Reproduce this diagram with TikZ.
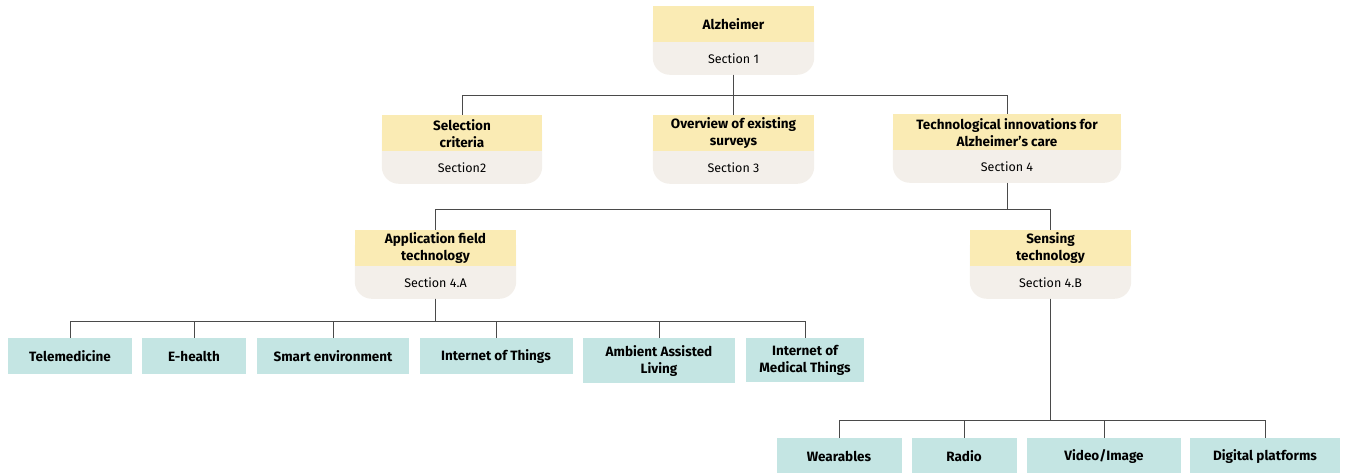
\documentclass[tikz,border=0pt]{standalone}
\usepackage{fontspec}
\setmainfont{Fira Sans}
\usepackage{xcolor}
\usepackage{tikz}
\usetikzlibrary{positioning,backgrounds}

\definecolor{headyellow}{HTML}{FAEBB4}
\definecolor{sectbeige}{HTML}{F3EFEA}
\definecolor{leafteal}{HTML}{C4E5E3}
\definecolor{linkgray}{HTML}{4A4A4A}

\begin{document}
\begin{tikzpicture}[x=1pt,y=-1pt,
	head/.style={fill=headyellow,anchor=north,align=center,minimum height=36pt,inner ysep=2pt,font=\fontsize{13.5}{17}\selectfont\bfseries},
	sect/.style={below=0pt of #1,minimum height=32pt,inner ysep=0pt,font=\fontsize{12.5}{15}\selectfont},
	leaf/.style={fill=leafteal,anchor=north,align=center,minimum height=36pt,inner ysep=7pt,font=\fontsize{13.5}{17}\selectfont\bfseries},
	link/.style={linkgray,line width=0.9pt}]
	\useasboundingbox (0,0) rectangle (1347,472);
	\clip (0,0) rectangle (1347,472);
	
	% sections
	\foreach \n/\x/\y/\w/\t/\s in {alz/733.5/6/161/Alzheimer/Section 1,
		sel/462/115/160/{Selection\\criteria}/Section2,
		over/733.5/115/161/{Overview of existing\\surveys}/Section 3,
		tech/1007/114/228/{Technological innovations for\\Alzheimer's care}/Section 4,
		app/435.5/230/161/{Application field\\technology}/Section 4.A,
		sens/1050.5/230/161/{Sensing\\technology}/Section 4.B}{
		\node[head,minimum width=\w pt] (\n) at (\x,\y) {\t};
		\node[sect=\n,minimum width=\w pt] (\n-s) {\s};
	}
	\begin{pgfonlayer}{background}
		\foreach \n in {alz,sel,over,tech,app,sens}{
			\fill[sectbeige,rounded corners=17pt] (\n.north west) rectangle (\n-s.south east);
		}
	\end{pgfonlayer}
	
	% application fields
	\foreach \n/\x/\w/\t in {tele/70/124/Telemedicine,
		ehealth/194/104/E-health,
		smart/333/152/Smart environment,
		iot/496/153/Internet of Things,
		aal/659/152/{Ambient Assisted\\Living},
		iomt/805/118/{Internet of\\Medical Things}}{
		\node[leaf,minimum width=\w pt] (\n) at (\x,338) {\t};
		\draw[link] (app-s.south) -- ++(0,23) -| (\n.north);
	}
	
	% sensing
	\foreach \n/\x/\w/\t in {wear/839/125/Wearables,
		radio/964/105/Radio,
		video/1104/154/{Video/Image},
		digi/1265/150/Digital platforms}{
		\node[leaf,minimum width=\w pt] (\n) at (\x,438) {\t};
		\draw[link] (sens-s.south) -- ++(0,122) -| (\n.north);
	}
	
	\draw[link] (alz-s.south) -- (over.north);
	\draw[link] (alz-s.south) -- ++(0,21) -| (sel.north);
	\draw[link] (alz-s.south) -- ++(0,21) -| (tech.north);
	\draw[link] (tech-s.south) -- ++(0,27) -| (app.north);
	\draw[link] (tech-s.south) -- ++(0,27) -| (sens.north);
	
\end{tikzpicture}
\end{document}
